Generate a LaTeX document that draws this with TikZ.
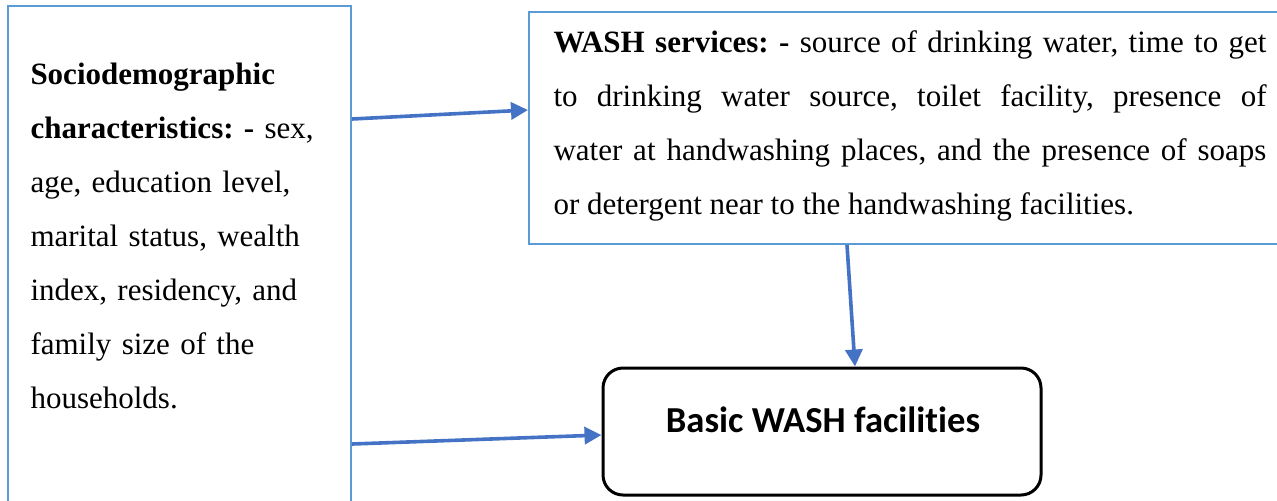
\documentclass[tikz,border=0pt]{standalone}
\usepackage{fontspec}
\setmainfont{Liberation Serif}
\newfontfamily\calibrifont[Ligatures=NoCommon]{Carlito}
\usetikzlibrary{arrows.meta}
\definecolor{box_blue}{RGB}{91,155,213}
\definecolor{edge_blue}{RGB}{68,114,196}
\frenchspacing

\begin{document}
\begin{tikzpicture}[x=0.5pt,y=-0.5pt,>={Triangle[length=8.5pt,width=8.5pt]},line width=1.5pt]
    \tikzstyle{box}=[draw=box_blue, line width=1pt, rectangle, inner sep=0pt, fill=none]
    \tikzstyle{goal}=[draw=black, line width=1.5pt, rectangle, rounded corners=10pt, inner sep=0pt]
    \tikzstyle{txt}=[anchor=base west, inner sep=0pt, text=black, font=\fontsize{15.5}{27}\selectfont]

    \path[use as bounding box, clip] (0,0) rectangle (1277,500);

    % boxes
    \node[box, minimum width=171.5pt, minimum height=257pt] (socio) at (179.5,263) {};
    \node[box, minimum width=380.5pt, minimum height=116pt] (wash)  at (909.5,128) {};
    \node[goal, minimum width=219pt, minimum height=63.5pt] (basic) at (822,431.5) {};

    % texts
    \node[txt, text width=165pt, align=left] (socio_txt) at (29,84)
      {\textbf{Sociodemographic}\\
       \textbf{characteristics: -} sex,\\
       age, education level,\\
       marital status, wealth\\
       index, residency, and\\
       family size of the\\
       households.};
    \node[txt, text width=356.5pt, align=justify] (wash_txt) at (552,52)
      {\textbf{WASH services: -} source of drinking water, time to get\linebreak
       to drinking water source, toilet facility, presence of\linebreak
       water at handwashing places, and the presence of soaps\linebreak
       or detergent near to the handwashing facilities.};
    \node[anchor=base, inner sep=0pt, font=\calibrifont\bfseries\fontsize{18.3}{22}\selectfont] (basic_txt) at (823,432)
      {Basic WASH facilities};

    \path[line width=1.8pt]
     ([yshift=72pt]socio.east)     edge[->, edge_blue] ([yshift=9pt]wash.west)
     ([yshift=-90.5pt]socio.east)  edge[->, edge_blue] ([yshift=-1.75pt]basic.west)
     ([xshift=-31.25pt]wash.south) edge[->, edge_blue] ([xshift=16.5pt]basic.north)
     ;
\end{tikzpicture}
\end{document}
